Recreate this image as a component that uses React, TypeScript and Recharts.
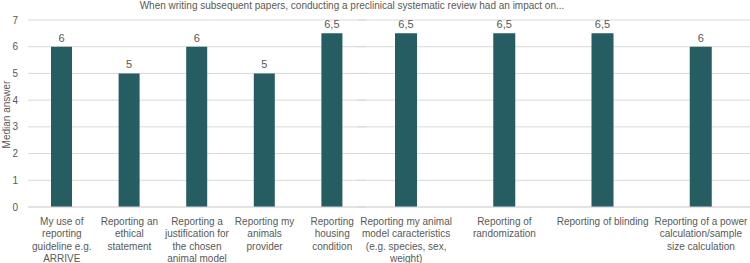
import React from 'react'
import { BarChart, Bar, XAxis, YAxis, CartesianGrid, LabelList } from 'recharts'

// left block of the figure
const CATEGORIES_A = [
  'My use of\nreporting\nguideline e.g.\nARRIVE',
  'Reporting an\nethical\nstatement',
  'Reporting a\njustification for\nthe chosen\nanimal model',
  'Reporting my\nanimals\nprovider',
  'Reporting\nhousing\ncondition',
]
const VALUES_A = [6, 5, 6, 5, 6.5]

// right block of the figure
const CATEGORIES_B = [
  'Reporting my animal\nmodel caracteristics\n(e.g. species, sex,\nweight)',
  'Reporting of\nrandomization',
  'Reporting of blinding',
  'Reporting of a power\ncalculation/sample\nsize calculation',
]
const VALUES_B = [6.5, 6.5, 6.5, 6]

const Y_TICKS = [0, 1, 2, 3, 4, 5, 6, 7]

const TITLE = 'When writing subsequent papers, conducting a preclinical systematic review had an impact on...'
const Y_LABEL = 'Median answer'

const BAR_COLOR = '#255d62'
const TEXT_COLOR = '#595959'
const GRID_COLOR = '#d9d9d9'
const FONT = '"Liberation Sans", Arial, sans-serif'

const dataA = CATEGORIES_A.map((name, i) => ({ name, value: VALUES_A[i] }))
const dataB = CATEGORIES_B.map((name, i) => ({ name, value: VALUES_B[i] }))

const fmt = (v: any) => String(v).replace('.', ',')

const WrappedTick = ({ x, y, payload }: any) => {
  const lines = String(payload.value).split('\n')
  return (
    <text x={x} y={y} textAnchor="middle" fill={TEXT_COLOR} fontSize={10} fontFamily={FONT}>
      {lines.map((l, i) => (
        <tspan key={i} x={x} dy={i === 0 ? 16 : 12.4}>
          {l}
        </tspan>
      ))}
    </text>
  )
}

const YTitle = ({ viewBox }: any) => {
  const cx = 10
  const cy = viewBox.y + viewBox.height / 2 + 1
  return (
    <text
      x={cx}
      y={cy}
      transform={`rotate(-90 ${cx} ${cy})`}
      textAnchor="middle"
      fill={TEXT_COLOR}
      fontSize={10}
      fontFamily={FONT}
    >
      {Y_LABEL}
    </text>
  )
}

function Block({ data, width, showAxis, barSize }: any) {
  return (
    <BarChart width={width} height={263} data={data} margin={{ top: 20, right: 0, bottom: 0, left: 0 }}>
      <CartesianGrid vertical={false} stroke={GRID_COLOR} />
      <XAxis
        dataKey="name"
        interval={0}
        height={56}
        tick={<WrappedTick />}
        tickLine={false}
        tickSize={0}
        axisLine={{ stroke: GRID_COLOR }}
      />
      <YAxis
        hide={!showAxis}
        width={28}
        domain={[0, 7]}
        ticks={Y_TICKS}
        axisLine={false}
        tickLine={false}
        tickSize={0}
        tickMargin={10}
        tick={{ fill: TEXT_COLOR, fontSize: 10, fontFamily: FONT }}
        label={showAxis ? { content: <YTitle /> } : undefined}
      />
      <Bar dataKey="value" fill={BAR_COLOR} barSize={barSize} isAnimationActive={false}>
        <LabelList
          dataKey="value"
          position="top"
          offset={5}
          formatter={fmt}
          fill={TEXT_COLOR}
          fontSize={11}
          fontFamily={FONT}
        />
      </Bar>
    </BarChart>
  )
}

export default function App() {
  return (
    <div style={{ position: 'relative', width: 750, height: 263, background: '#fff', fontFamily: FONT }}>
      <style>{'body{margin:0}'}</style>
      <div style={{ position: 'absolute', left: 0, top: 0 }}>
        <Block data={dataA} width={366} showAxis barSize={21} />
      </div>
      <div style={{ position: 'absolute', left: 357, top: 0 }}>
        <Block data={dataB} width={393} showAxis={false} barSize={22} />
      </div>
      <div
        style={{
          position: 'absolute',
          left: 352,
          top: 0,
          transform: 'translateX(-50%)',
          whiteSpace: 'nowrap',
          fontSize: 10,
          lineHeight: '12px',
          color: TEXT_COLOR,
        }}
      >
        {TITLE}
      </div>
    </div>
  )
}
